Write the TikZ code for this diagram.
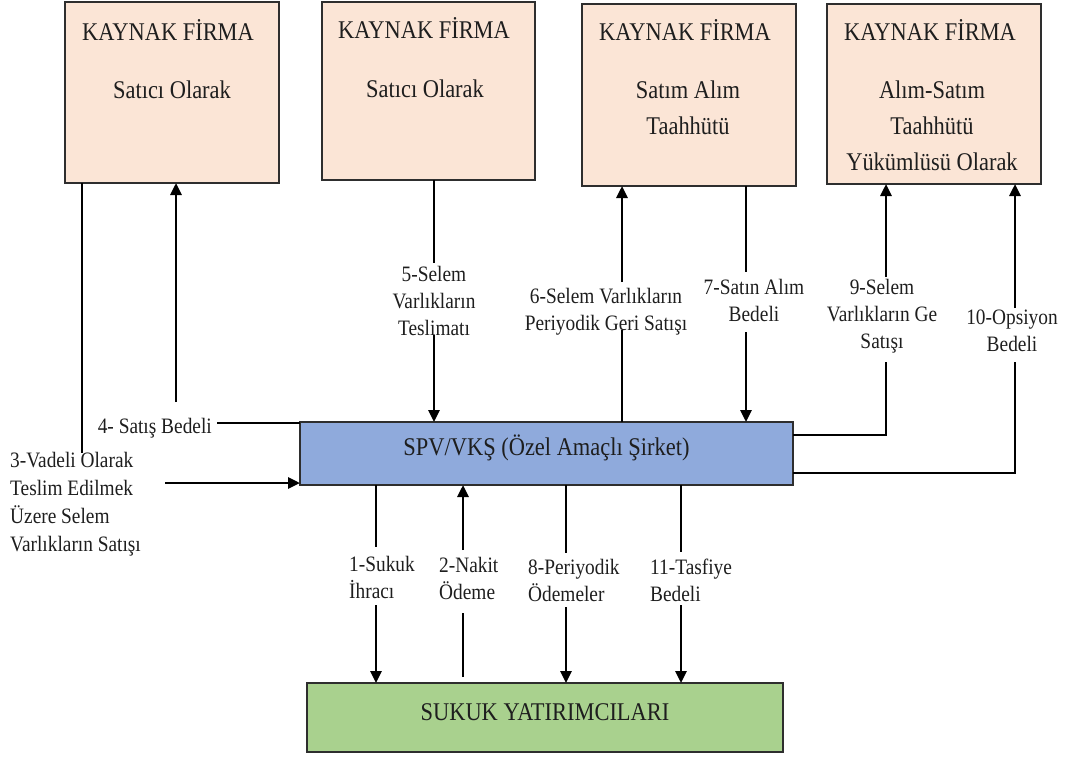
\documentclass[tikz,border=0pt]{standalone}
\usepackage{fontspec}
\setmainfont{Liberation Serif}[FakeStretch=0.88]
\usetikzlibrary{arrows.meta}
\definecolor{firmfill}{HTML}{FBE5D6}
\definecolor{spvfill}{HTML}{8FAADC}
\definecolor{invfill}{HTML}{A9D18E}
\definecolor{ink}{HTML}{1E1E1E}
\definecolor{edge}{HTML}{2E2E2E}
\tikzset{
  boxbase/.style={draw=edge, line width=1.5pt, inner sep=0pt, outer sep=0pt, anchor=north west},
  firm/.style={boxbase, fill=firmfill},
  spvbox/.style={boxbase, fill=spvfill, text=ink, font=\fontsize{25.5}{30}\selectfont},
  invbox/.style={boxbase, fill=invfill, text=ink, font=\fontsize{25.5}{30}\selectfont},
  boxtxt/.style={text=ink, inner sep=0pt, anchor=base, align=center, font=\fontsize{25.5}{36}\selectfont},
  lbl/.style={text=ink, inner sep=0pt, font=\fontsize{22}{27}\selectfont},
  ln/.style={draw=black, line width=2.8pt},
  arr/.style={ln, -{Triangle[length=12pt,width=11pt]}}
}
\begin{document}
\begin{tikzpicture}[x=1pt,y=-1pt]
\useasboundingbox (0,0) rectangle (1071,756);

% source firms
\node[firm, minimum width=214pt, minimum height=181pt] (f1) at (65,2) {};
\node[firm, minimum width=213pt, minimum height=178pt] (f2) at (322,2) {};
\node[firm, minimum width=214pt, minimum height=182pt] (f3) at (582,4) {};
\node[firm, minimum width=214pt, minimum height=180pt] (f4) at (827,4) {};

% box texts (multi-line texts are placed by the baseline of their last line)
\node[boxtxt] (f1t) at (168,40) {KAYNAK FİRMA};
\node[boxtxt] (f1b) at (172,98) {Satıcı Olarak};
\node[boxtxt] (f2t) at (424,38) {KAYNAK FİRMA};
\node[boxtxt] (f2b) at (425,97) {Satıcı Olarak};
\node[boxtxt] (f3t) at (685,40) {KAYNAK FİRMA};
\node[boxtxt] (f3b) at (688,134) {Satım Alım\\Taahhütü};
\node[boxtxt] (f4t) at (930,40) {KAYNAK FİRMA};
\node[boxtxt] (f4b) at (932,170) {Alım-Satım\\Taahhütü\\Yükümlüsü Olarak};

% special purpose vehicle and investors
\node[spvbox, minimum width=493pt, minimum height=63pt, text height=19pt, text depth=15pt] (spv) at (300,422) {SPV/VKŞ (Özel Amaçlı Şirket)};
\node[invbox, minimum width=476pt, minimum height=69pt, text height=17pt, text depth=12pt] (inv) at (307,683) {SUKUK YATIRIMCILARI};

% 3: forward sale of selem assets
\coordinate (c3a) at (82,453);
\draw[ln] (f1.south -| c3a) -- (c3a);
\node[lbl, align=left, anchor=base west, font=\fontsize{22}{28}\selectfont] (l3) at (10,551) {3-Vadeli Olarak\\Teslim Edilmek\\Üzere Selem\\Varlıkların Satışı};
\coordinate (c3b) at (165,483);
\draw[arr] (c3b) -- (spv.west |- c3b);

% 4: sale price
\node[lbl, anchor=base east] (l4) at (212,433) {4- Satış Bedeli};
\coordinate (c4a) at (217,423);
\draw[ln] (spv.west |- c4a) -- (c4a);
\coordinate (c4b) at (176,402);
\draw[arr] (c4b) -- (f1.south -| c4b);

% 5: delivery
\coordinate (c5a) at (434,263);
\coordinate (c5b) at (434,335);
\draw[ln] (f2.south -| c5a) -- (c5a);
\draw[arr] (c5b) -- (spv.north -| c5b);
\node[lbl, align=center, anchor=base] (l5) at (434,335) {5-Selem\\Varlıkların\\Teslimatı};

% 6: periodic resale
\coordinate (c6a) at (622,282);
\coordinate (c6b) at (622,330);
\draw[arr] (c6a) -- (f3.south -| c6a);
\draw[ln] (spv.north -| c6b) -- (c6b);
\node[lbl, align=center, anchor=base] (l6) at (606,330) {6-Selem Varlıkların\\Periyodik Geri Satışı};

% 7: purchase price
\coordinate (c7a) at (746,272);
\coordinate (c7b) at (746,332);
\draw[ln] (f3.south -| c7a) -- (c7a);
\draw[arr] (c7b) -- (spv.north -| c7b);
\node[lbl, align=center, anchor=base] (l7) at (754,321) {7-Satın Alım\\Bedeli};

% 9: resale of selem assets
\coordinate (c9a) at (886,277);
\coordinate (c9b) at (886,362);
\draw[arr] (c9a) -- (f4.south -| c9a);
\draw[ln] (c9b) |- ([yshift=-13pt]spv.north east);
\node[lbl, align=center, anchor=base] (l9) at (882,348) {9-Selem\\Varlıkların Ge\\Satışı};

% 10: option price
\coordinate (c10a) at (1015,308);
\coordinate (c10b) at (1015,362);
\draw[arr] (c10a) -- (f4.south -| c10a);
\draw[ln] (c10b) |- ([yshift=12pt]spv.south east);
\node[lbl, align=center, anchor=base] (l10) at (1012,351) {10-Opsiyon\\Bedeli};

% 1: sukuk issue
\coordinate (c1a) at (376,547);
\coordinate (c1b) at (376,605);
\draw[ln] (spv.south -| c1a) -- (c1a);
\draw[arr] (c1b) -- (inv.north -| c1b);
\node[lbl, align=left, anchor=base west] (l1) at (349,598) {1-Sukuk\\İhracı};

% 2: cash payment
\coordinate (c2a) at (463,550);
\coordinate (c2b) at (463,613);
\coordinate (c2c) at (463,677);
\draw[arr] (c2a) -- (spv.south -| c2a);
\draw[ln] (c2c) -- (c2b);
\node[lbl, align=left, anchor=base west] (l2) at (439,599) {2-Nakit\\Ödeme};

% 8: periodic payments
\coordinate (c8a) at (566,553);
\coordinate (c8b) at (566,607);
\draw[ln] (spv.south -| c8a) -- (c8a);
\draw[arr] (c8b) -- (inv.north -| c8b);
\node[lbl, align=left, anchor=base west] (l8) at (528,601) {8-Periyodik\\Ödemeler};

% 11: liquidation price
\coordinate (c11a) at (681,552);
\coordinate (c11b) at (681,605);
\draw[ln] (spv.south -| c11a) -- (c11a);
\draw[arr] (c11b) -- (inv.north -| c11b);
\node[lbl, align=left, anchor=base west] (l11) at (650,601) {11-Tasfiye\\Bedeli};
\end{tikzpicture}
\end{document}
